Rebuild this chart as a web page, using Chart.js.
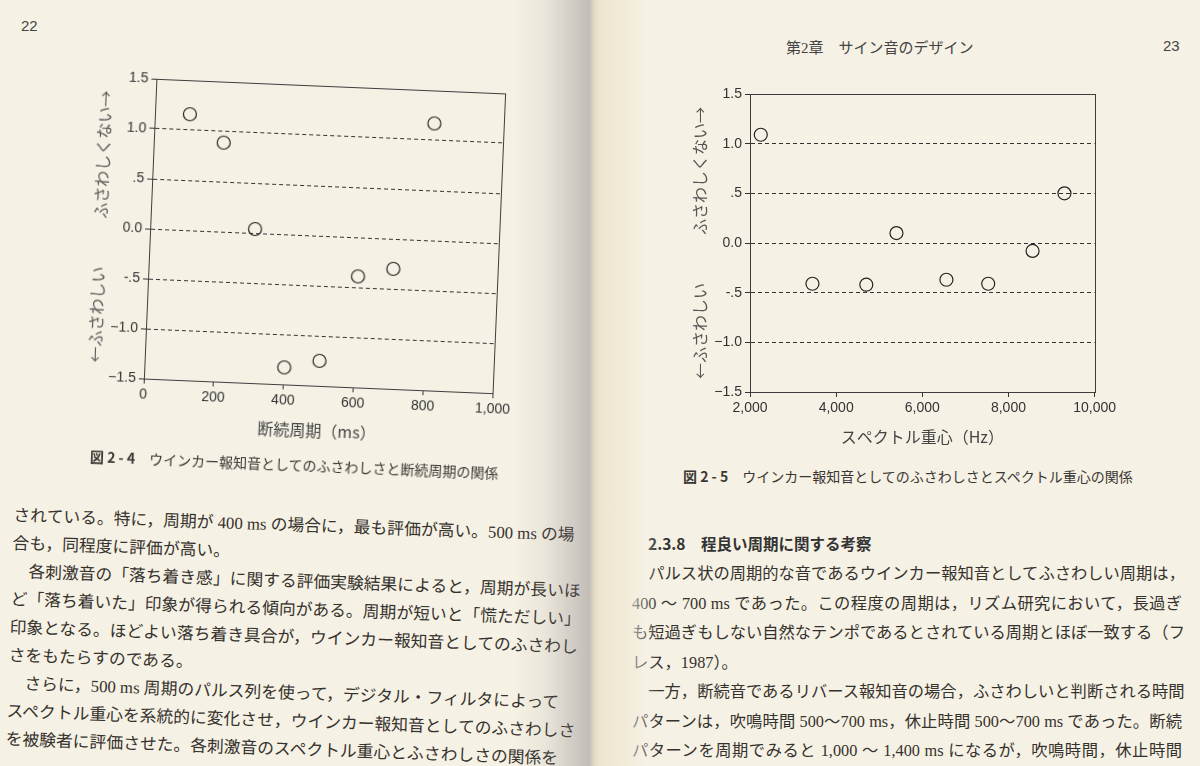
<!DOCTYPE html>
<html lang="ja">
<head>
<meta charset="utf-8">
<script src="https://cdn.jsdelivr.net/npm/chart.js@4.4.0/dist/chart.umd.min.js"></script>
<style>
  body { margin:0; width:1200px; height:766px; overflow:hidden; position:relative;
    background:#f5f1e4; color:#35322e;
    font-family:"Liberation Serif","Noto Sans CJK JP",serif; }
  .abs { position:absolute; white-space:nowrap; }
  .num { font-family:"Liberation Sans",Arial,sans-serif; font-size:15px; color:#444; }
  .head { font-size:15px; color:#444; }
  .cap { font-size:14px; color:#3a3733; }
  .cap b { font-family:"Noto Sans CJK JP",sans-serif; font-weight:700; margin-right:14px; }
  .body { font-size:16.8px; }
  .body div { width:550px; height:28px; line-height:28px; }
  .body.r { font-size:16.3px; }
  .body.r div { height:29.5px; line-height:29.5px; }
  .body .j { text-align:justify; text-align-last:justify; }
  .sect { font-family:"Noto Sans CJK JP",sans-serif; font-weight:700; font-size:15.5px; color:#333; }
  #gutter { position:absolute; left:515px; top:0; width:160px; height:766px; pointer-events:none;
    background:linear-gradient(to right,
      rgba(245,241,228,0) 0px,
      rgba(140,135,135,0.10) 30px,
      rgba(120,115,120,0.30) 60px,
      rgba(110,105,110,0.38) 74px,
      rgba(210,195,160,0.45) 80px,
      rgba(236,226,200,0.75) 86px,
      rgba(240,232,212,0.70) 110px,
      rgba(245,241,228,0.35) 128px,
      rgba(245,241,228,0) 145px); }
</style>
</head>
<body>

<div class="abs num" style="left:21px;top:17px;">22</div>
<div class="abs head" style="left:786px;top:36px;">第2章　サイン音のデザイン</div>
<div class="abs num" style="left:1163px;top:37px;">23</div>

<canvas id="periodChart" width="460" height="380" class="abs"
  style="left:60px;top:66px;transform-origin:265px 170px;transform:rotate(2.4deg);"></canvas>
<canvas id="centroidChart" width="459" height="378" class="abs" style="left:660px;top:74px;"></canvas>

<div class="abs cap" style="left:90px;top:446px;transform-origin:0 50%;transform:rotate(2.3deg);">
  <b>図 2 - 4</b>ウインカー報知音としてのふさわしさと断続周期の関係</div>
<div class="abs cap" style="left:683px;top:466px;">
  <b>図 2 - 5</b>ウインカー報知音としてのふさわしさとスペクトル重心の関係</div>

<div class="abs body" style="left:14px;top:502px;transform-origin:0 0;transform:rotate(2deg);">
  <div class="j">されている。特に，周期が 400 ms の場合に，最も評価が高い。500 ms の場</div>
  <div>合も，同程度に評価が高い。</div>
  <div class="j">　各刺激音の「落ち着き感」に関する評価実験結果によると，周期が長いほ</div>
  <div class="j">ど「落ち着いた」印象が得られる傾向がある。周期が短いと「慌ただしい」</div>
  <div class="j">印象となる。ほどよい落ち着き具合が，ウインカー報知音としてのふさわし</div>
  <div>さをもたらすのである。</div>
  <div class="j">　さらに，500 ms 周期のパルス列を使って，デジタル・フィルタによって</div>
  <div class="j">スペクトル重心を系統的に変化させ，ウインカー報知音としてのふさわしさ</div>
  <div class="j">を被験者に評価させた。各刺激音のスペクトル重心とふさわしさの関係を</div>
</div>

<div class="abs sect" style="left:648px;top:532px;">2.3.8　程良い周期に関する考察</div>
<div class="abs body r" style="left:632px;top:559px;">
  <div class="j">　パルス状の周期的な音であるウインカー報知音としてふさわしい周期は，</div>
  <div class="j">400 ～ 700 ms であった。この程度の周期は，リズム研究において，長過ぎ</div>
  <div class="j">も短過ぎもしない自然なテンポであるとされている周期とほぼ一致する（フ</div>
  <div>レス，1987）。</div>
  <div class="j">　一方，断続音であるリバース報知音の場合，ふさわしいと判断される時間</div>
  <div class="j">パターンは，吹鳴時間 500～700 ms，休止時間 500～700 ms であった。断続</div>
  <div class="j">パターンを周期でみると 1,000 ～ 1,400 ms になるが，吹鳴時間，休止時間</div>
</div>

<div id="gutter"></div>

<script>
// 図2-4: 断続周期 vs ふさわしさ
const periodMs = [100, 200, 300, 400, 500, 600, 700, 800]
const periodScore = [1.16, 0.89, 0.04, -1.33, -1.25, -0.39, -0.30, 1.17]
const periodTicks = [0, 200, 400, 600, 800, 1000]
const periodTickLabels = ["0", "200", "400", "600", "800", "1,000"]

// 図2-5: スペクトル重心 vs ふさわしさ
const centroidHz = [2250, 3450, 4700, 5400, 6560, 7530, 8560, 9300]
const centroidScore = [1.09, -0.41, -0.42, 0.10, -0.37, -0.41, -0.08, 0.50]
const centroidTicks = [2000, 4000, 6000, 8000, 10000]
const centroidTickLabels = ["2,000", "4,000", "6,000", "8,000", "10,000"]

const scoreTicks = [-1.5, -1, -0.5, 0, 0.5, 1, 1.5]
const scoreTickLabels = ["\u22121.5", "\u22121.0", "-.5", "0.0", ".5", "1.0", "1.5"]
const scoreTitle = "\u2190ふさわしい\u3000\u3000\u3000ふさわしくない\u2192"

const tickFont = { family: "'Liberation Sans', Arial, sans-serif", size: 14 }
const titleFont = { family: "'Noto Sans CJK JP', sans-serif", size: 16 }

// box round the plot area
const frame = {
  id: "frame",
  afterDraw(chart) {
    const a = chart.chartArea, c = chart.ctx
    c.save()
    c.strokeStyle = "#3d3d3d"
    c.lineWidth = 1
    c.strokeRect(Math.round(a.left) + 0.5, Math.round(a.top) + 0.5, Math.round(a.right - a.left), Math.round(a.bottom - a.top))
    c.restore()
  }
}

function makeChart(id, xs, ys, xMin, xMax, xTicks, xLabels, xTitle) {
  const ctx = document.getElementById(id).getContext("2d")
  return new Chart(ctx, {
    type: "scatter",
    data: {
      datasets: [{
        data: xs.map((x, i) => ({ x: x, y: ys[i] })),
        pointRadius: 6.5,
        pointHoverRadius: 6.5,
        pointBorderWidth: 1.2,
        pointBorderColor: "#222",
        pointBackgroundColor: "rgba(0,0,0,0)",
      }]
    },
    options: {
      responsive: false,
      animation: false,
      events: [],
      layout: { padding: { left: 28, top: 20, right: 20, bottom: 0 } },
      plugins: { legend: { display: false }, tooltip: { enabled: false } },
      scales: {
        x: {
          type: "linear",
          min: xMin,
          max: xMax,
          afterBuildTicks: s => { s.ticks = xTicks.map(v => ({ value: v })) },
          afterFit: s => { s.height = 60 },
          ticks: {
            font: tickFont, color: "#333", padding: 3, maxRotation: 0,
            callback: v => xLabels[xTicks.indexOf(v)]
          },
          grid: { drawOnChartArea: false, tickLength: 5, tickColor: "#333" },
          border: { color: "#3d3d3d", width: 1 },
          title: { display: true, text: xTitle, font: titleFont, color: "#444", padding: { top: 0, bottom: 5 } }
        },
        y: {
          min: -1.5,
          max: 1.5,
          afterBuildTicks: s => { s.ticks = scoreTicks.map(v => ({ value: v })) },
          afterFit: s => { s.width = 62 },
          ticks: {
            font: tickFont, color: "#333", padding: 3,
            callback: v => scoreTickLabels[scoreTicks.indexOf(v)]
          },
          grid: {
            color: c => (c.tick && Math.abs(c.tick.value) === 1.5) ? "rgba(0,0,0,0)" : "#333",
            lineWidth: 1, tickLength: 5, tickColor: "#333"
          },
          border: { color: "#3d3d3d", width: 1, dash: [4, 3] },
          title: { display: true, text: scoreTitle, font: titleFont, color: "#555", padding: { top: 2, bottom: 0 } }
        }
      }
    },
    plugins: [frame]
  })
}

makeChart("periodChart", periodMs, periodScore, 0, 1000, periodTicks, periodTickLabels, "断続周期（ms）")
makeChart("centroidChart", centroidHz, centroidScore, 2000, 10000, centroidTicks, centroidTickLabels, "スペクトル重心（Hz）")
</script>
</body>
</html>
